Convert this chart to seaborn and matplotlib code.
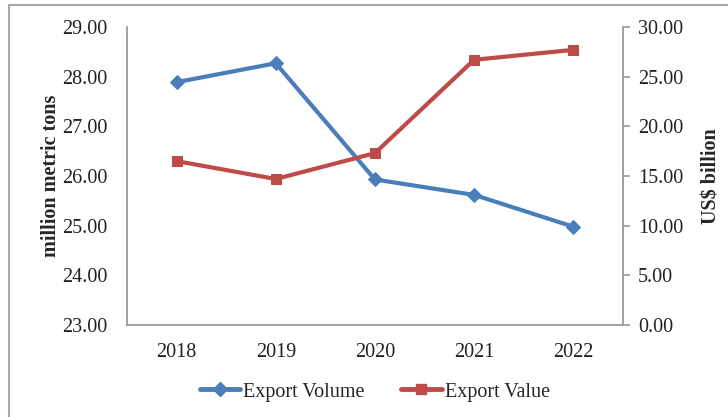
import matplotlib
matplotlib.use("Agg")
import matplotlib.pyplot as plt
import seaborn as sns
import pandas as pd
from matplotlib.lines import Line2D

years = ["2018", "2019", "2020", "2021", "2022"]
export_volume = [27.89, 28.27, 25.93, 25.62, 24.98]   # million metric tons
export_value = [16.5, 14.7, 17.3, 26.7, 27.7]        # US$ billion
left_ticks = [23, 24, 25, 26, 27, 28, 29]
right_ticks = [0, 5, 10, 15, 20, 25, 30]

sns.set_style("white")
plt.rcParams["font.family"] = ["Liberation Serif", "DejaVu Serif"]

df = pd.DataFrame({"Year": years, "Volume": export_volume, "Value": export_value})

blue = "#4A7EBB"
red = "#BE4B48"
spine_col = "#9A9A9A"
fs = 14.5

fig = plt.figure(figsize=(7.28, 4.17), dpi=100)
ax = fig.add_axes([0.1745, 0.2206, 0.681, 0.7146])
ax2 = ax.twinx()

sns.lineplot(data=df, x="Year", y="Volume", ax=ax, color=blue, lw=3.0,
             marker="D", markersize=7, markeredgecolor=blue, sort=False)
sns.lineplot(data=df, x="Year", y="Value", ax=ax2, color=red, lw=3.0,
             marker="s", markersize=7, markeredgecolor=red, sort=False)

ax.set_xlim(-0.5, 4.5)
ax.set_ylim(23, 29)
ax2.set_ylim(0, 30)
ax.set_yticks(left_ticks)
ax.set_yticklabels([f"{v:.2f}" for v in left_ticks])
ax2.set_yticks(right_ticks)
ax2.set_yticklabels([f"{v:.2f}" for v in right_ticks])

for a in (ax, ax2):
    for s in a.spines.values():
        s.set_visible(False)
ax.spines["left"].set_visible(True)
ax.spines["bottom"].set_visible(True)
ax2.spines["right"].set_visible(True)
for s in (ax.spines["left"], ax.spines["bottom"], ax2.spines["right"]):
    s.set_color(spine_col)
    s.set_linewidth(1.3)

ax.tick_params(axis="y", length=0, pad=14, labelsize=fs, colors="#222222")
ax.tick_params(axis="x", length=0, pad=13, labelsize=fs, colors="#222222")
ax2.tick_params(axis="y", length=5, width=1.2, color=spine_col, pad=6,
                labelsize=fs, labelcolor="#222222")

ax.set_xlabel("")
ax.set_ylabel("million metric tons", fontsize=fs, fontweight="bold", labelpad=1)
ax2.set_ylabel("US$ billion", fontsize=fs, fontweight="bold", labelpad=13)
ax.grid(False)
ax2.grid(False)

handles = [
    Line2D([], [], color=blue, lw=3.5, marker="D", markersize=7),
    Line2D([], [], color=red, lw=3.5, marker="s", markersize=7),
]
fig.legend(handles, ["Export Volume", "Export Value"], loc="center",
           bbox_to_anchor=(0.515, 0.06), ncol=2, frameon=False,
           fontsize=fs, handlelength=2.0, handletextpad=0.15, columnspacing=1.8)

# outer frame (left and top edges visible)
fig.add_artist(Line2D([9 / 728, 9 / 728], [0, 1 - 5 / 417], transform=fig.transFigure,
                      color="#A8A8A8", lw=1.5))
fig.add_artist(Line2D([9 / 728, 1], [1 - 5 / 417, 1 - 5 / 417], transform=fig.transFigure,
                      color="#A8A8A8", lw=1.5))

fig.savefig("out.png", dpi=100)
